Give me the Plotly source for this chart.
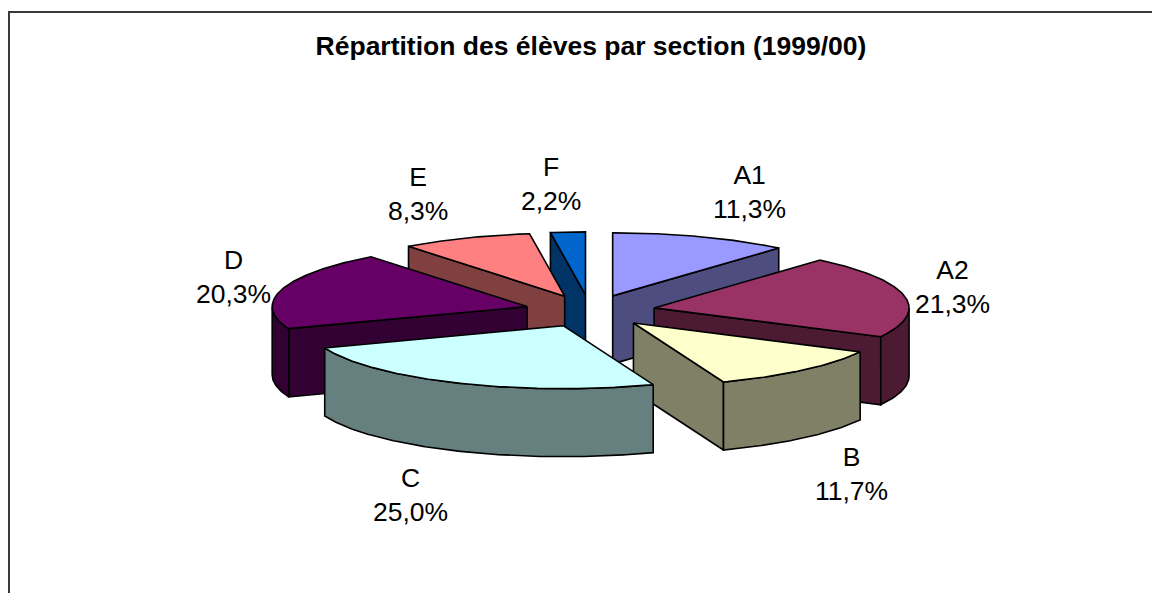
import numpy as np
import plotly.graph_objects as go

# ---- data ----
categories = ["A1", "A2", "B", "C", "D", "E", "F"]
shares = [11.3, 21.3, 11.7, 25.0, 20.3, 8.3, 2.2]
top_colors = ["#9999FF", "#993366", "#FFFFCC", "#CCFFFF", "#660066", "#FF8080", "#0066CC"]
side_colors = ["#4D4D80", "#4D1A33", "#808066", "#668080", "#330033", "#804040", "#003366"]
title_text = "Répartition des élèves par section (1999/00)"

# ---- page / figure frame (page body has an 8px margin) ----
PAGE_W, PAGE_H = 1160, 601
PAD = 8
W, H = PAGE_W - 2 * PAD, PAGE_H - 2 * PAD

# ---- 3D pie geometry (axes in page-pixel units) ----
CX, CY = 590.0, 311.0
RX, RY = 255.0, 63.0
DEPTH = 68.0
EXPLODE = 0.256
LABEL_GAP = 48.0
FONT = "Arial, Liberation Sans, sans-serif"
FONT_SIZE = 26.5

total = float(sum(shares))


def pt(cx, cy, t_deg, dy=0.0):
    t = np.radians(t_deg)
    return cx + RX * np.cos(t), cy - RY * np.sin(t) + dy


def arc(cx, cy, a, b, dy=0.0, n=None):
    if n is None:
        n = max(2, int(abs(a - b) * 2) + 2)
    ts = np.linspace(a, b, n)
    xs = cx + RX * np.cos(np.radians(ts))
    ys = cy - RY * np.sin(np.radians(ts)) + dy
    return list(xs), list(ys)


slices = []
cum = 0.0
for i, (cat, v) in enumerate(zip(categories, shares)):
    t1 = 90.0 - 360.0 * cum / total
    t2 = t1 - 360.0 * v / total
    cum += v
    mid = (t1 + t2) / 2.0
    m = np.radians(mid)
    cx = CX + EXPLODE * RX * np.cos(m)
    cy = CY - EXPLODE * RY * np.sin(m)
    slices.append(dict(i=i, cat=cat, v=v, t1=t1, t2=t2, mid=mid, cx=cx, cy=cy))

# painter's order: back (top of screen) first
order = sorted(slices, key=lambda s: -np.sin(np.radians(s["mid"])))

fig = go.Figure()


def add_poly(xs, ys, color):
    fig.add_trace(go.Scatter(
        x=xs + [xs[0]], y=ys + [ys[0]], mode="lines", fill="toself",
        fillcolor=color, line=dict(color="black", width=1.6),
        hoverinfo="skip", showlegend=False))


for s in order:
    cx, cy, t1, t2 = s["cx"], s["cy"], s["t1"], s["t2"]
    side = side_colors[s["i"]]
    top = top_colors[s["i"]]
    # radial faces
    for t, visible in ((t1, np.cos(np.radians(t1)) < -1e-6),
                       (t2, np.cos(np.radians(t2)) > 1e-6)):
        if visible:
            rx0, ry0 = pt(cx, cy, t)
            add_poly([cx, rx0, rx0, cx], [cy, ry0, ry0 + DEPTH, cy + DEPTH], side)
    # outer wall (front half only, where sin < 0)
    for k in range(-2, 2):
        lo = max(t2, -180.0 + 360.0 * k)
        hi = min(t1, 360.0 * k)
        if hi - lo > 1e-6:
            xt, yt = arc(cx, cy, hi, lo)
            xb, yb = arc(cx, cy, hi, lo, dy=DEPTH)
            add_poly(xt + xb[::-1], yt + yb[::-1], side)
    # top face
    xa, ya = arc(cx, cy, t1, t2)
    add_poly([cx] + xa, [cy] + ya, top)

# labels
annotations = []
for s in slices:
    m = np.radians(s["mid"])
    c, sn = np.cos(m), np.sin(m)
    rx0, ry0 = pt(s["cx"], s["cy"], s["mid"], dy=DEPTH if sn < 0 else 0.0)
    lx = rx0 + LABEL_GAP * float(np.clip(5 * c, -1, 1))
    ly = ry0 - LABEL_GAP * sn
    pct = f"{s['v']:.1f}".replace(".", ",") + "%"
    annotations.append(dict(
        x=lx, y=ly, xref="x", yref="y", text=f"{s['cat']}<br>{pct}",
        showarrow=False, xanchor="center", yanchor="middle",
        font=dict(family=FONT, size=FONT_SIZE, color="black")))

fig.update_layout(
    width=W, height=H,
    margin=dict(l=0, r=0, t=0, b=0),
    paper_bgcolor="white", plot_bgcolor="white",
    title=dict(text=f"<b>{title_text}</b>", x=(591 - PAD) / W, xanchor="center",
               y=1 - (46 - PAD) / H, yanchor="middle",
               font=dict(family=FONT, size=FONT_SIZE, color="black")),
    xaxis=dict(range=[PAD, PAD + W], visible=False, fixedrange=True),
    yaxis=dict(range=[PAD + H, PAD], visible=False, fixedrange=True),
    annotations=annotations,
    shapes=[dict(type="path", xref="x", yref="y",
                 path=f"M 9,{PAD + H + 2} L 9,12 L {PAD + W + 2},12",
                 line=dict(color="#3a3a3a", width=2))],
    showlegend=False,
)

fig.write_html("out.html")
